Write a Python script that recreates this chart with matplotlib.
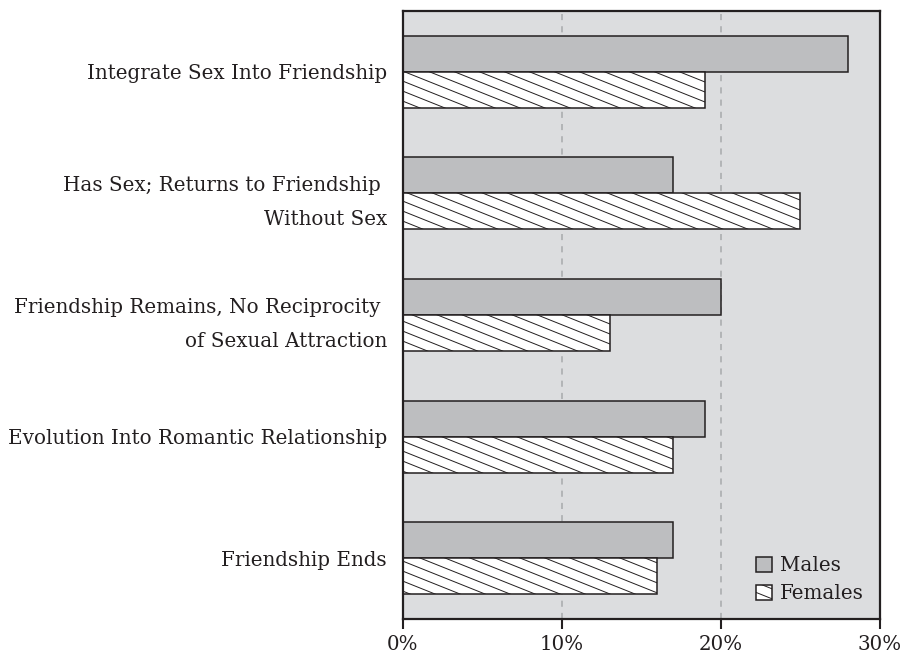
import numpy as np
import matplotlib
matplotlib.use("Agg")
import matplotlib.pyplot as plt
import matplotlib.hatch as mhatch
from matplotlib.path import Path

# outcome categories, top to bottom
outcomes = [
    "Integrate Sex Into Friendship",
    "Has Sex; Returns to Friendship \nWithout Sex",
    "Friendship Remains, No Reciprocity \nof Sexual Attraction",
    "Evolution Into Romantic Relationship",
    "Friendship Ends",
]
males = [28, 17, 20, 19, 17]
females = [19, 25, 13, 17, 16]
x_ticks = [0, 10, 20, 30]


class ShallowBackslash(mhatch.HatchPatternBase):
    """'\\' hatch with a shallower slope than the stock 45 degree one."""
    rise, count = 4, 10

    def __init__(self, hatch, density):
        self.num_lines = self.count + self.rise + 1 if "\\" in hatch else 0
        self.num_vertices = self.num_lines * 2

    def set_vertices_and_codes(self, vertices, codes):
        steps = np.arange(self.num_lines) / self.count
        vertices[0::2, 0] = 0.0
        vertices[0::2, 1] = steps
        vertices[1::2, 0] = 1.0
        vertices[1::2, 1] = steps - self.rise / self.count
        codes[0::2] = Path.MOVETO
        codes[1::2] = Path.LINETO


mhatch._hatch_types = [ShallowBackslash if h is mhatch.SouthEastHatch else h
                       for h in mhatch._hatch_types]

ink = "#231f20"
plt.rcParams["font.family"] = ["DejaVu Serif"]
plt.rcParams["hatch.linewidth"] = 0.7

fig = plt.figure(figsize=(9.14, 6.57), dpi=100)
ax = fig.add_axes([0.4409, 0.0578, 0.5219, 0.9259])
ax.set_facecolor("#dcdddf")

y = np.arange(len(outcomes))
h = 0.296
ax.barh(y - h / 2, males, height=h, color="#bdbec0", edgecolor=ink,
        linewidth=1.1, label="Males")
ax.barh(y + h / 2, females, height=h, color="white", edgecolor=ink,
        linewidth=1.1, hatch="\\", label="Females")

ax.set_xlim(0, 30)
ax.set_ylim(len(outcomes) - 0.5, -0.5)
ax.set_xticks(x_ticks, [f"{t}%" for t in x_ticks])
ax.set_yticks(y, outcomes)
for lab in ax.get_yticklabels():
    lab.set_linespacing(2.0)
    lab.set_multialignment("right")

ax.xaxis.grid(True, color="#a7a9ac", linestyle=(0, (4, 4)), linewidth=1.1)
ax.set_axisbelow(True)

ax.tick_params(axis="y", length=0, pad=11.5, labelsize=14.3, labelcolor=ink)
ax.tick_params(axis="x", length=7, width=1.5, color=ink, direction="out",
               pad=4.5, labelsize=14.3, labelcolor=ink)
for s in ax.spines.values():
    s.set_linewidth(1.6)
    s.set_color(ink)

leg = ax.legend(loc="lower right", frameon=False, fontsize=14.3,
                handlelength=0.8, handleheight=0.8, handletextpad=0.4,
                labelspacing=0.45, borderaxespad=0.4)
for t in leg.get_texts():
    t.set_color(ink)

fig.savefig("out.png", dpi=100)
